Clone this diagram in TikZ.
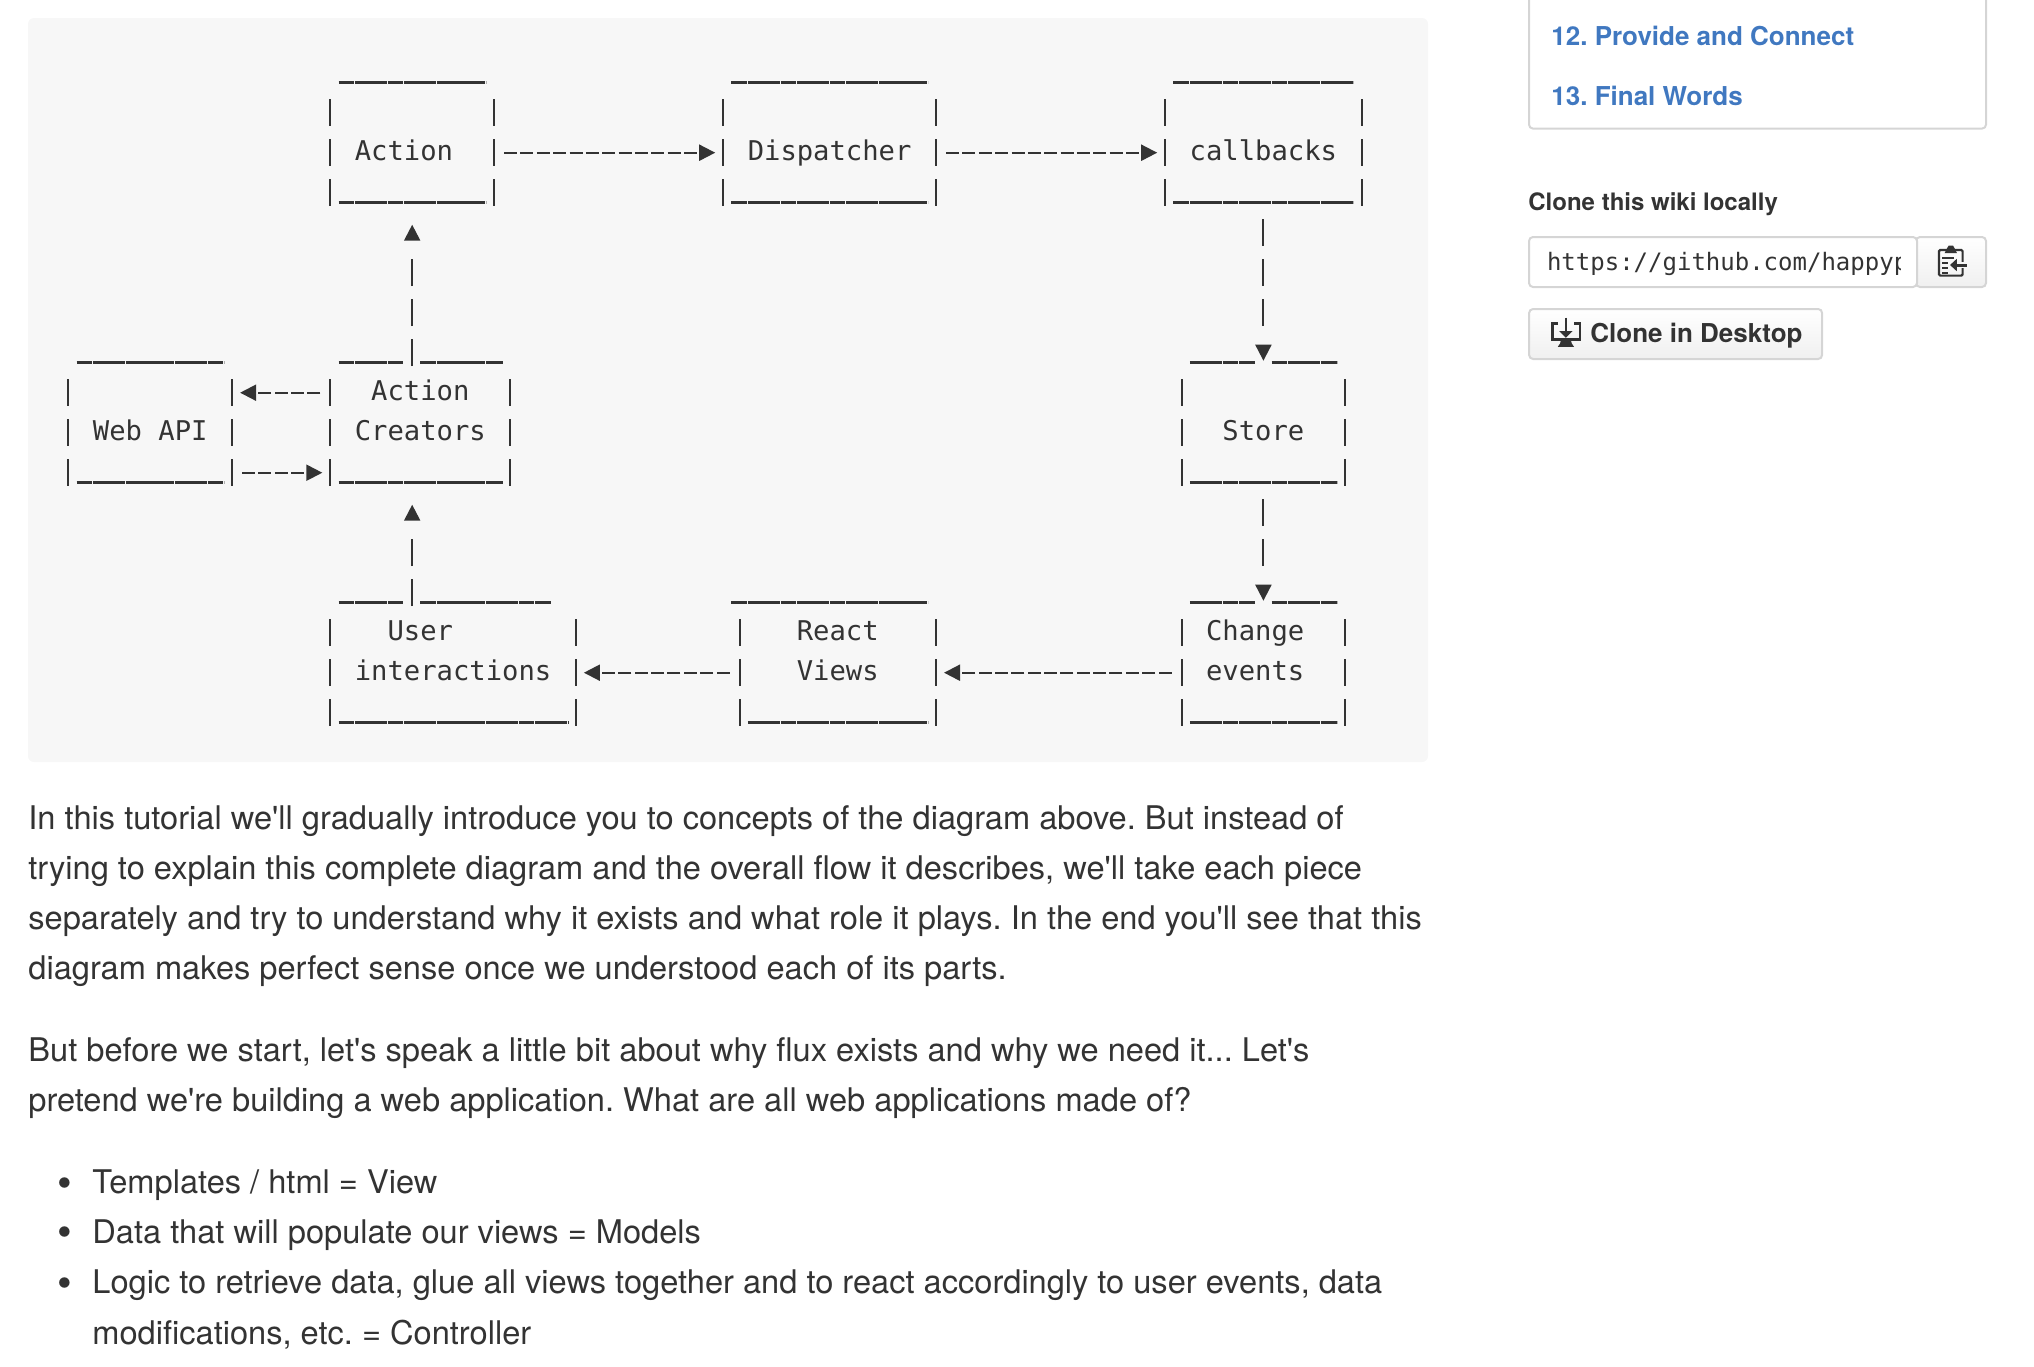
\documentclass[tikz,border=0pt]{standalone}
\usepackage{fontspec}
\usepackage{xcolor}
\newfontfamily\pageFont{TeX Gyre Heros}
\newfontfamily\monoFont{DejaVu Sans Mono}
\usetikzlibrary{arrows.meta}
\definecolor{inkGray}{HTML}{333333}
\definecolor{panelGray}{HTML}{F7F7F7}
\definecolor{linkBlue}{HTML}{4078C0}
\definecolor{edgeGray}{HTML}{D5D5D5}
\tikzstyle{asciiBlock} = [font=\monoFont\fontsize{13.6}{20}\selectfont, text=inkGray, align=center,
    inner sep=0pt, outer sep=0pt, minimum height=60pt]
\tikzstyle{bodyLine} = [font=\pageFont\fontsize{16.3}{25}\selectfont, text=inkGray, anchor=base west, inner sep=0pt]
\tikzstyle{dotLine} = [font=\pageFont\fontsize{21}{25}\selectfont, text=inkGray, anchor=base west, inner sep=0pt]
\tikzstyle{linkLine} = [font=\pageFont\bfseries\fontsize{13}{20}\selectfont, text=linkBlue, anchor=base west, inner sep=0pt]
\tikzstyle{sideLine} = [font=\pageFont\bfseries\fontsize{12}{20}\selectfont, text=inkGray, anchor=base west, inner sep=0pt]
\tikzstyle{barLine} = [draw=inkGray, line width=1pt, dash pattern=on 13.35pt off 6.65pt, dash phase=16.7pt]
\tikzstyle{ruleLine} = [draw=inkGray, line width=1.4pt, dash pattern=on 7.9pt off .285pt]
\tikzstyle{ruleGap} = [dash pattern=on 7.9pt off .285pt on 7.9pt off .285pt on 7.9pt off .285pt on 7.9pt off 8.47pt
    on 7.9pt off .285pt on 7.9pt off .285pt on 7.9pt off .285pt on 7.9pt off .285pt
    on 7.9pt off .285pt on 7.9pt off .285pt on 7.9pt off .285pt on 7.9pt off 50pt]
\tikzstyle{dashArrow} = [draw=inkGray, line width=1pt, -{Triangle[length=8pt,width=8pt]},
    dash pattern=on 6.5pt off 1.685pt, shorten <=5pt, shorten >=4pt]
\tikzstyle{riseArrow} = [draw=inkGray, line width=1pt, -{Triangle[length=8pt,width=8pt]},
    shorten <=3.35pt, shorten >=6pt]
\tikzstyle{barsThree} = [dash pattern=on 13.35pt off 6.65pt on 13.35pt off 6.65pt on 13.35pt off 40pt]
\tikzstyle{barsTwo} = [dash pattern=on 13.35pt off 6.65pt on 13.35pt off 40pt]
\tikzstyle{buttonBlock} = [draw=edgeGray, line width=1pt, rounded corners=2pt, top color=white, bottom color=black!6]
% node name, shift of the top rule at its left and right end, style of the top rule
\newcommand{\boxFrame}[4]{
  \draw [barLine] (#1.north west) -- (#1.south west);
  \draw [barLine] (#1.north east) -- (#1.south east);
  \draw [ruleLine, #4] ([shift={(#2,5pt)}]#1.north west) -- ([shift={(#3,5pt)}]#1.north east);
  \draw [ruleLine] ([shift={(4.09pt,5pt)}]#1.south west) -- ([shift={(-4.09pt,5pt)}]#1.south east);
}
\begin{document}
\frenchspacing
\begin{tikzpicture}
      \useasboundingbox (0,0) rectangle (1017pt,-683pt);
      \node [fill=panelGray, rounded corners=3pt, minimum width=700pt, minimum height=372pt, inner sep=0pt] (panel) at (364pt,-195pt) {};

      % Place nodes
      \node [asciiBlock, minimum width=81.85pt] (action) at (206.09pt,-76.35pt) {\strut Action\hphantom{x}};
      \node [asciiBlock, minimum width=106.4pt, right of=action, node distance=208.72pt] (dispatcher) {\strut Dispatcher};
      \node [asciiBlock, minimum width=98.22pt, right of=dispatcher, node distance=216.9pt] (callbacks) {\strut callbacks};

      \node [asciiBlock, minimum width=90.04pt, below of=action, node distance=140pt, xshift=4.09pt] (creators) {\strut Action\\\strut Creators\\\strut};
      \node [asciiBlock, minimum width=81.85pt, left of=creators, node distance=135.05pt] (webApi) {\strut Web API};
      \node [asciiBlock, minimum width=81.85pt, below of=callbacks, node distance=140pt] (store) {\strut Store};

      \node [asciiBlock, minimum width=122.78pt, below of=creators, node distance=120pt, xshift=16.37pt] (interactions) {\strut\hphantom{xx}User\hphantom{xxxxxx}\\\strut interactions\\\strut};
      \node [asciiBlock, minimum width=98.22pt, right of=interactions, node distance=192.35pt] (views) {\strut React\\\strut Views\\\strut};
      \node [asciiBlock, minimum width=81.85pt, below of=store, node distance=120pt] (changes) {\strut Change\hphantom{x}\\\strut events\hphantom{x}\\\strut};

      \boxFrame{action}{4.09pt}{-4.09pt}{}
      \boxFrame{dispatcher}{4.09pt}{-4.09pt}{}
      \boxFrame{callbacks}{4.09pt}{-4.09pt}{}
      \boxFrame{webApi}{4.09pt}{-4.09pt}{}
      \boxFrame{creators}{4.09pt}{-4.09pt}{ruleGap}
      \boxFrame{store}{4.09pt}{-4.09pt}{ruleGap}
      \boxFrame{interactions}{4.09pt}{-12.28pt}{ruleGap}
      \boxFrame{views}{-4.09pt}{-4.09pt}{}
      \boxFrame{changes}{4.09pt}{-4.09pt}{ruleGap}

      \path [dashArrow] (action) -- (dispatcher);
      \path [dashArrow] (dispatcher) -- (callbacks);
      \path [dashArrow] ([yshift=20pt]creators.west) -- ([yshift=20pt]webApi.east);
      \path [dashArrow] ([yshift=-20pt]webApi.east) -- ([yshift=-20pt]creators.west);
      \path [dashArrow] (changes) -- (views);
      \path [dashArrow] (views) -- (interactions);
      \path [riseArrow, barsThree] (action.south |- creators.north) -- (action.south);
      \path [riseArrow, barsTwo] (action.south |- interactions.north) -- (action.south |- creators.south);
      \path [riseArrow, barsThree] (callbacks) -- (store);
      \path [riseArrow, barsTwo] (store) -- (changes);

      % Page text
      \node [bodyLine] (introA) at (14pt,-414.5pt) {In this tutorial we'll gradually introduce you to concepts of the diagram above. But instead of};
      \node [bodyLine] (introB) at (14pt,-439.8pt) {trying to explain this complete diagram and the overall flow it describes, we'll take each piece};
      \node [bodyLine] (introC) at (14pt,-464.5pt) {separately and try to understand why it exists and what role it plays. In the end you'll see that this};
      \node [bodyLine] (introD) at (14pt,-489.8pt) {diagram makes perfect sense once we understood each of its parts.};
      \node [bodyLine] (whyA) at (14pt,-530.5pt) {But before we start, let's speak a little bit about why flux exists and why we need it... Let's};
      \node [bodyLine] (whyB) at (14pt,-555.8pt) {pretend we're building a web application. What are all web applications made of?};
      \node [dotLine] (dotA) at (28.7pt,-598.6pt) {•};
      \node [bodyLine] (itemA) at (46pt,-596.8pt) {Templates / html = View};
      \node [dotLine] (dotB) at (28.7pt,-623.3pt) {•};
      \node [bodyLine] (itemB) at (46pt,-621.5pt) {Data that will populate our views = Models};
      \node [dotLine] (dotC) at (28.7pt,-648.6pt) {•};
      \node [bodyLine] (itemC) at (46pt,-646.8pt) {Logic to retrieve data, glue all views together and to react accordingly to user events, data};
      \node [bodyLine] (itemD) at (46pt,-672pt) {modifications, etc. = Controller};

      % Sidebar
      \draw [draw=edgeGray, line width=1pt, rounded corners=2pt] (764.5pt,0pt) -- (764.5pt,-64.3pt) -- (993pt,-64.3pt) -- (993pt,0pt);
      \node [linkLine] (linkProvide) at (775.5pt,-22.9pt) {12. Provide and Connect};
      \node [linkLine] (linkWords) at (775.5pt,-52.9pt) {13. Final Words};
      \node [sideLine] (cloneTitle) at (764pt,-105pt) {Clone this wiki locally};
      \draw [buttonBlock] (958pt,-118.5pt) rectangle (993pt,-143.5pt);
      \draw [draw=edgeGray, line width=1pt, rounded corners=2pt, fill=white] (764.5pt,-118.5pt) rectangle (958.5pt,-143.5pt);
      \begin{scope}
        \clip (770pt,-118pt) rectangle (950pt,-144pt);
        \node [font=\monoFont\fontsize{12}{16}\selectfont, text=inkGray, anchor=base west, inner sep=0pt] (cloneUrl) at (773.3pt,-135pt) {https://github.com/happyp};
      \end{scope}
      % clipboard icon
      \draw [inkGray, line width=1.1pt, rounded corners=.6pt] (969.5pt,-125pt) -- (969.5pt,-137.8pt) -- (981.3pt,-137.8pt) -- (981.3pt,-125pt) -- cycle;
      \fill [inkGray] (972.3pt,-126.6pt) -- (973.6pt,-124pt) -- (974.3pt,-122.8pt) -- (976.5pt,-122.8pt) -- (977.2pt,-124pt) -- (978.5pt,-126.6pt) -- cycle;
      \draw [inkGray, line width=.9pt] (971.2pt,-129pt) -- (977pt,-129pt) (971.2pt,-131.5pt) -- (974.2pt,-131.5pt) (971.2pt,-134pt) -- (974.2pt,-134pt) (971.2pt,-136.3pt) -- (974.2pt,-136.3pt);
      \draw [panelGray, line width=3.4pt] (976pt,-132.5pt) -- (983.3pt,-132.5pt);
      \draw [inkGray, line width=1.5pt, -{Triangle[length=3.4pt,width=6pt]}] (983.3pt,-132.5pt) -- (975pt,-132.5pt);

      \node [buttonBlock, minimum width=146.5pt, minimum height=25pt, inner sep=0pt] (cloneDesktop) at (837.8pt,-167pt) {};
      \node [font=\pageFont\bfseries\fontsize{13}{20}\selectfont, text=inkGray, anchor=base west, inner sep=0pt] (cloneLabel) at (795pt,-171pt) {Clone in Desktop};
      % desktop icon
      \draw [inkGray, line width=1.3pt] (779pt,-161.7pt) -- (776.1pt,-161.7pt) -- (776.1pt,-169.6pt) -- (789.9pt,-169.6pt) -- (789.9pt,-161.7pt) -- (786.8pt,-161.7pt);
      \draw [inkGray, line width=1.4pt, -{Triangle[length=3.4pt,width=6.6pt]}] (782.95pt,-158.8pt) -- (782.95pt,-168.9pt);
      \fill [inkGray] (780.5pt,-170pt) -- (785.4pt,-170pt) -- (785.9pt,-171.8pt) -- (787pt,-173.4pt) -- (778.9pt,-173.4pt) -- (780pt,-171.8pt) -- cycle;
  \end{tikzpicture}
\end{document}
